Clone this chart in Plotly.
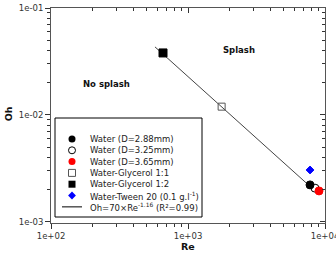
import math
import plotly.graph_objects as go

# ---- data ----
series_names = ["Water (D=2.88mm)", "Water (D=3.25mm)", "Water (D=3.65mm)",
                "Water-Glycerol 1:1", "Water-Glycerol 1:2", "Water-Tween 20 (0.1 g.l<sup>-1</sup>)"]
series_re = [[7775], [8450], [9040], [1760], [657], [7775]]
series_oh = [[0.00222], [0.00207], [0.00195], [0.01196], [0.038], [0.00306]]
fit_label = "Oh=70×Re<sup>-1.16</sup> (R²=0.99)"
fit_re = [574, 8000]
fit_oh = [0.0433, 0.00208]

x_major = [100, 1000, 10000]
x_major_text = ["1e+02", "1e+03", "1e+04"]
y_major = [0.001, 0.01, 0.1]
y_major_text = ["1e-03", "1e-02", "1e-01"]
x_minor = [m * d for d in (100, 1000) for m in range(2, 10)]
y_minor = [m * d for d in (0.001, 0.01) for m in range(2, 10)]

region_text = ["No splash", "Splash"]
region_re = [256, 2356]
region_oh = [0.0195, 0.0405]

x_title = "Re"
y_title = "Oh"

# ---- styles ----
styles = [
    dict(symbol="circle", color="black", size=8, line=dict(color="black", width=1)),
    dict(symbol="circle-open", color="black", size=8, line=dict(color="black", width=1)),
    dict(symbol="circle", color="red", size=8, line=dict(color="red", width=1)),
    dict(symbol="square-open", color="#555", size=7, line=dict(color="#555", width=1)),
    dict(symbol="square", color="black", size=8, line=dict(color="black", width=1)),
    dict(symbol="diamond", color="blue", size=6, line=dict(color="blue", width=1)),
]
leg_styles = [
    dict(symbol="circle", color="black", size=7),
    dict(symbol="circle-open", color="black", size=7, line=dict(width=1)),
    dict(symbol="circle", color="red", size=7),
    dict(symbol="square-open", color="#555", size=7, line=dict(width=1)),
    dict(symbol="square", color="black", size=7),
    dict(symbol="diamond", color="blue", size=6),
]

fig = go.Figure()

fig.add_trace(go.Scatter(x=fit_re, y=fit_oh, mode="lines",
                         line=dict(color="#444", width=1), showlegend=False))
order = [1, 0, 2, 3, 4, 5]
for i in order:
    fig.add_trace(go.Scatter(x=series_re[i], y=series_oh[i], mode="markers",
                             marker=styles[i], showlegend=False, name=series_names[i]))

# mirrored axes (top/right, inward ticks)
fig.add_trace(go.Scatter(x=[1000], y=[0.01], xaxis="x2", yaxis="y2", mode="markers",
                         marker=dict(opacity=0), showlegend=False, hoverinfo="skip"))

# manual compact legend in pixel-like coordinates
leg_x0, leg_x1, leg_y0, leg_y1 = 55, 202, 118, 217
row_y = [139 + 11.3 * k for k in range(7)]
for k, st in enumerate(leg_styles):
    fig.add_trace(go.Scatter(x=[72], y=[row_y[k]], xaxis="x3", yaxis="y3", mode="markers",
                             marker=st, showlegend=False, hoverinfo="skip"))
fig.add_trace(go.Scatter(x=[62, 82], y=[row_y[6], row_y[6]], xaxis="x3", yaxis="y3", mode="lines",
                         line=dict(color="#555", width=1.5), showlegend=False, hoverinfo="skip"))
annotations = []
for k, name in enumerate(series_names + [fit_label]):
    annotations.append(dict(x=88, y=row_y[k], xref="x3", yref="y3", text=name, showarrow=False,
                            xanchor="left", yanchor="middle",
                            font=dict(family="DejaVu Sans", size=8.5, color="#222")))
for t, xr, yr in zip(region_text, region_re, region_oh):
    annotations.append(dict(x=math.log10(xr), y=math.log10(yr), xref="x", yref="y",
                            text="<b>" + t + "</b>", showarrow=False,
                            font=dict(family="DejaVu Sans", size=8.5, color="#111")))
# axis titles
annotations.append(dict(x=0.5, y=-0.107, xref="paper", yref="paper", text="<b>" + x_title + "</b>",
                        showarrow=False, xanchor="center", yanchor="middle",
                        font=dict(family="DejaVu Sans", size=9.5, color="#111")))
annotations.append(dict(x=-0.157, y=0.51, xref="paper", yref="paper", text="<b>" + y_title + "</b>",
                        showarrow=False, xanchor="center", yanchor="middle", textangle=-90,
                        font=dict(family="DejaVu Sans", size=9.5, color="#111")))

shapes = [dict(type="rect", xref="x3", yref="y3", x0=leg_x0, x1=leg_x1, y0=leg_y0, y1=leg_y1,
               line=dict(color="black", width=1), fillcolor="rgba(0,0,0,0)", layer="below")]

tickfont = dict(family="DejaVu Sans", size=8.5, color="#333")
common = dict(showgrid=False, zeroline=False, showline=True, linecolor="#555", linewidth=1,
              automargin=False, tickcolor="#333")
fig.update_layout(
    template="none",
    width=336, height=256,
    margin=dict(l=51, r=11, t=8, b=33),
    paper_bgcolor="white", plot_bgcolor="white",
    font=dict(family="DejaVu Sans"),
    xaxis=dict(type="log", range=[2, 4], tickmode="array", tickvals=x_major, ticktext=x_major_text,
               ticks="outside", ticklen=5, tickfont=tickfont, ticklabeloverflow="allow",
               minor=dict(tickmode="array", tickvals=x_minor, ticks="outside", ticklen=3, tickcolor="#333", showgrid=False),
               **common),
    yaxis=dict(type="log", range=[-3.01, -1], tickmode="array", tickvals=y_major, ticktext=y_major_text,
               ticks="outside", ticklen=5, tickfont=tickfont, ticklabeloverflow="allow",
               minor=dict(tickmode="array", tickvals=y_minor, ticks="outside", ticklen=3, tickcolor="#333", showgrid=False),
               **common),
    xaxis2=dict(type="log", range=[2, 4], overlaying="x", side="top", tickmode="array", tickvals=x_major,
                showticklabels=False, ticks="inside", ticklen=5,
                minor=dict(tickmode="array", tickvals=x_minor, ticks="inside", ticklen=3, tickcolor="#333", showgrid=False),
                **common),
    yaxis2=dict(type="log", range=[-3.01, -1], overlaying="y", side="right", tickmode="array", tickvals=y_major,
                showticklabels=False, ticks="inside", ticklen=5,
                minor=dict(tickmode="array", tickvals=y_minor, ticks="inside", ticklen=3, tickcolor="#333", showgrid=False),
                **common),
    xaxis3=dict(range=[51, 325], overlaying="x", visible=False, fixedrange=True, automargin=False),
    yaxis3=dict(range=[223, 8], overlaying="y", visible=False, fixedrange=True, automargin=False),
    annotations=annotations, shapes=shapes,
)

fig.write_html("out.html", config={"displayModeBar": False},
               post_script="document.body.style.margin='0px';document.body.style.overflow='hidden';")
